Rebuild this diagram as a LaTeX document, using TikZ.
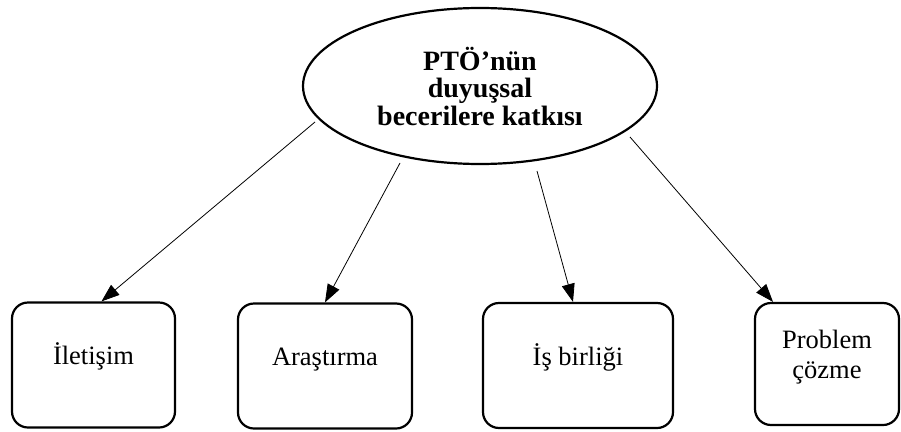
\documentclass[tikz,border=0pt]{standalone}
\usepackage{fontspec}
\setmainfont{Liberation Serif}
\usepackage{tikz}
\usetikzlibrary{calc, shapes.geometric, arrows.meta}

\begin{document}
\begin{tikzpicture}[x=1pt, y=-1pt,
		box/.style = {draw, line width = 2.2pt, rounded corners = 16pt, minimum height = 125pt, inner sep = 0pt},
		boxtext/.style = {align = center, font = \fontsize{26.5}{30}\selectfont, inner sep = 0pt},
		oneline/.style = {text height = 19pt, text depth = 6pt},
		arrow/.style = {line width = 0.8pt, -{Triangle[length = 18pt, width = 13pt]}}]
		\def\boxy{365};
		\def\raise{7pt};
		
		\useasboundingbox (0,0) rectangle (901,431);
		
		\node [draw, ellipse, line width = 2.2pt, minimum width = 354pt, minimum height = 156pt, inner sep = 0pt, align = center, font = \fontsize{28}{27.5}\selectfont\bfseries] (ptoe) at (480,86) {PTÖ’nün\\duyuşsal\\becerilere katkısı};
		
		\node [box, minimum width = 163pt] (iletisim) at (93.5,\boxy) {};
		\node [box, minimum width = 174pt] (arastirma) at (325,\boxy+1) {};
		\node [box, minimum width = 190pt] (isbirligi) at (578,\boxy+0.5) {};
		\node [box, minimum width = 144pt, minimum height = 122pt] (problem) at (827,\boxy-1) {};
		
		\node [boxtext, oneline] (iletisim text) at ([yshift=\raise]iletisim.center) {İletişim};
		\node [boxtext, oneline] (arastirma text) at ([yshift=\raise]arastirma.center) {Araştırma};
		\node [boxtext, oneline] (isbirligi text) at ([yshift=\raise]isbirligi.center) {İş birliği};
		\node [boxtext] (problem text) at ([yshift=\raise]problem.center) {Problem\\çözme};
		
		% arrows start a little off the ellipse
		\coordinate (s1) at (315,122);
		\coordinate (s2) at (400,163);
		\coordinate (s3) at (537,171);
		\coordinate (s4) at (630,137);
		
		\draw [arrow] (s1) -- ([xshift=8pt]iletisim.north);
		\draw [arrow] (s2) -- (arastirma.north);
		\draw [arrow] (s3) -- ([xshift=-5pt]isbirligi.north);
		\draw [arrow] (s4) -- ([xshift=-54pt]problem.north);
	\end{tikzpicture}
\end{document}
